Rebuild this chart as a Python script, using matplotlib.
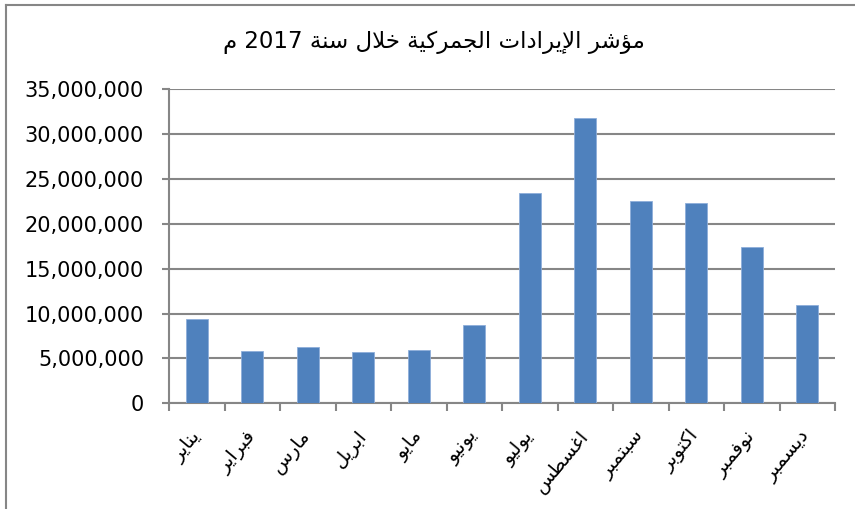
import re
import matplotlib
matplotlib.use("Agg")
import matplotlib.pyplot as plt
from matplotlib.ticker import FuncFormatter, FixedLocator, MultipleLocator
from matplotlib.lines import Line2D

title = "مؤشر الإيرادات الجمركية خلال سنة 2017 م"
months = ["يناير", "فبراير", "مارس", "ابريل", "مايو", "يونيو",
          "يوليو", "اغسطس", "سبتمبر", "اكتوبر", "نوفمبر", "ديسمبر"]
values = [9440000, 5800000, 6240000, 5720000, 5980000, 8690000,
          23480000, 31760000, 22510000, 22330000, 17420000, 10960000]

FORMS = {
    'ا': (0xFE8D, False), 'إ': (0xFE87, False), 'ب': (0xFE8F, True), 'ة': (0xFE93, False),
    'ت': (0xFE95, True), 'ج': (0xFE9D, True), 'خ': (0xFEA5, True), 'د': (0xFEA9, False),
    'ر': (0xFEAD, False), 'س': (0xFEB1, True), 'ش': (0xFEB5, True), 'ط': (0xFEC1, True),
    'غ': (0xFECD, True), 'ف': (0xFED1, True), 'ك': (0xFED9, True), 'ل': (0xFEDD, True),
    'م': (0xFEE1, True), 'ن': (0xFEE5, True), 'و': (0xFEED, False), 'ؤ': (0xFE85, False),
    'ي': (0xFEF1, True),
}
LAMALEF = {'ا': 0xFEFB, 'إ': 0xFEF9}


def shape(s):
    units = []
    i = 0
    while i < len(s):
        c = s[i]
        if c == 'ل' and i + 1 < len(s) and s[i + 1] in LAMALEF:
            units.append((LAMALEF[s[i + 1]], False, True))
            i += 2
        elif c in FORMS:
            b, d = FORMS[c]
            units.append((b, d, True))
            i += 1
        else:
            units.append((c, False, False))
            i += 1
    out = []
    for k, (b, d, j) in enumerate(units):
        if not j:
            out.append(b)
            continue
        prev = k > 0 and units[k - 1][2] and units[k - 1][1]
        nxt = d and k + 1 < len(units) and units[k + 1][2]
        if prev and nxt:
            f = 3
        elif prev:
            f = 1
        elif nxt:
            f = 2
        else:
            f = 0
        out.append(chr(b + f))
    vis = ''.join(out)[::-1]
    vis = re.sub(r'[0-9]+', lambda m: m.group(0)[::-1], vis)
    return vis


plt.rcParams['font.family'] = ['DejaVu Sans']
GRAY = '#868686'
W, H = 855, 509

fig = plt.figure(figsize=(W / 100, H / 100), dpi=100)
ax = fig.add_axes([169 / W, 1 - 403.3 / H, (835 - 169) / W, (403.3 - 89.3) / H])

x = list(range(len(months)))
ax.bar(x, values, width=0.4, color='#4F81BD', edgecolor='#8EAEDA', linewidth=0.6, zorder=3)

ax.set_xlim(-0.5, len(months) - 0.5)
ax.set_ylim(0, 35000000)
ax.yaxis.set_major_locator(MultipleLocator(5000000))
ax.yaxis.set_major_formatter(FuncFormatter(lambda v, p: f"{int(v):,}"))
ax.grid(axis='y', color=GRAY, linewidth=1.5, zorder=0)
ax.set_axisbelow(True)

ax.xaxis.set_major_locator(FixedLocator([i - 0.5 for i in range(len(months) + 1)]))
ax.set_xticklabels([])
ax.tick_params(axis='x', length=6, width=1.5, color=GRAY, direction='out')
ax.tick_params(axis='y', length=5, width=1.5, color=GRAY, direction='out', labelsize=15, pad=13)

for sp in ['top', 'right']:
    ax.spines[sp].set_visible(False)
for sp in ['left', 'bottom']:
    ax.spines[sp].set_color(GRAY)
    ax.spines[sp].set_linewidth(1.5)

for i, m in enumerate(months):
    ax.text(i + 0.0, -3300000, shape(m), rotation=50, rotation_mode='anchor',
            ha='right', va='center', fontsize=14, clip_on=False)

fig.text(434 / W, 1 - 42 / H, shape(title), ha='center', va='center', fontsize=16.5)

# chart area border (top and left edges visible)
fig.add_artist(Line2D([5.5 / W, 5.5 / W], [0, 1 - 4.5 / H], transform=fig.transFigure,
                      color=GRAY, linewidth=1.5))
fig.add_artist(Line2D([5.5 / W, 1], [1 - 4.5 / H, 1 - 4.5 / H], transform=fig.transFigure,
                      color=GRAY, linewidth=1.5))

fig.savefig('out.png', dpi=100)
